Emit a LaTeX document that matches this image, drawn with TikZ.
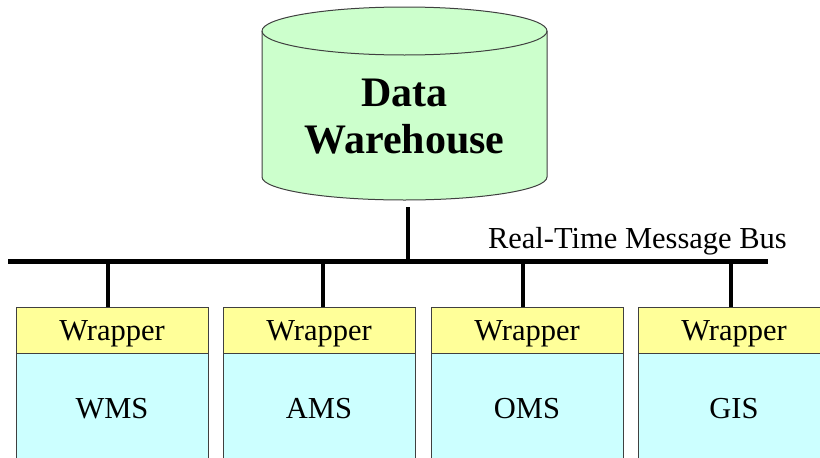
\documentclass[tikz,border=0pt]{standalone}
\usepackage{fontspec}
\setmainfont{Liberation Serif}
\definecolor{dwgreen}{HTML}{CCFFCC}
\definecolor{wrapyellow}{HTML}{FFFF99}
\definecolor{syscyan}{HTML}{CCFFFF}
\definecolor{edgegray}{HTML}{404040}
\begin{document}
\begin{tikzpicture}[x=1pt,y={(0pt,-1pt)},
  wrapbox/.style={draw=edgegray, line width=1pt, fill=wrapyellow, rectangle, anchor=north west,
    minimum width=192pt, minimum height=46pt, inner sep=0pt},
  sysbox/.style={draw=edgegray, line width=1pt, fill=syscyan, rectangle, anchor=north west,
    minimum width=192pt, minimum height=140pt, inner sep=0pt},
  systext/.style={font=\fontsize{30.5}{34}\selectfont},
  bus/.style={line width=5pt, black},
  drop/.style={line width=4pt, black}]
\useasboundingbox (0,0) rectangle (820,458);
\clip (0,0) rectangle (820,458);
% Data warehouse cylinder
\path[draw=edgegray, line width=1pt, fill=dwgreen]
  (262,31) -- (262,177) arc[start angle=180, end angle=360, x radius=142.5pt, y radius=23pt]
  -- (547,31) arc[start angle=0, end angle=180, x radius=142.5pt, y radius=24pt] -- cycle;
\draw[edgegray, line width=1pt] (262,31) arc[start angle=180, end angle=360, x radius=142.5pt, y radius=24pt];
\node[align=center, font=\bfseries\fontsize{42}{47}\selectfont] (dw) at (404.5,117) {Data\\Warehouse};
% bus
\coordinate (busL) at (8,261);
\coordinate (busR) at (768,261);
\draw[bus] (busL) -- (busR);
\node[font=\fontsize{30.5}{34}\selectfont, anchor=base east, inner sep=0pt] (buslabel) at (787,248) {Real-Time Message Bus};
\coordinate (dwb) at (408,207);
\draw[drop] (dwb) -- (dwb |- busL);
% boxes
\node[sysbox] (s1) at (16,353) {};
\node[sysbox] (s2) at (223,353) {};
\node[sysbox] (s3) at (431,353) {};
\node[sysbox] (s4) at (638,353) {};
\node[wrapbox] (w1) at (16,307) {};
\node[wrapbox] (w2) at (223,307) {};
\node[wrapbox] (w3) at (431,307) {};
\node[wrapbox] (w4) at (638,307) {};
\node[systext, anchor=base] (wt1) at (112,340) {Wrapper};
\node[systext, anchor=base] (wt2) at (319,340) {Wrapper};
\node[systext, anchor=base] (wt3) at (527,340) {Wrapper};
\node[systext, anchor=base] (wt4) at (734,340) {Wrapper};
\node[systext, anchor=base] (t1) at (112,418) {WMS};
\node[systext, anchor=base] (t2) at (319,418) {AMS};
\node[systext, anchor=base] (t3) at (527,418) {OMS};
\node[systext, anchor=base] (t4) at (734,418) {GIS};
% drops
\coordinate (b1) at (108,261);
\coordinate (b2) at (323,261);
\coordinate (b3) at (523,261);
\coordinate (b4) at (731,261);
\draw[drop] (b1) -- (b1 |- w1.north);
\draw[drop] (b2) -- (b2 |- w2.north);
\draw[drop] (b3) -- (b3 |- w3.north);
\draw[drop] (b4) -- (b4 |- w4.north);
\end{tikzpicture}
\end{document}
